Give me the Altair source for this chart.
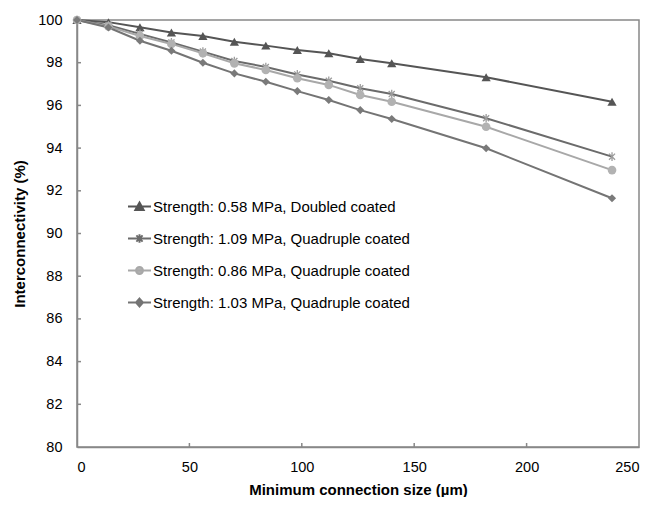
import altair as alt
import pandas as pd

# ---- data ----
x_um = [0, 14, 28, 42, 56, 70, 84, 98, 112, 126, 140, 182, 238]
series = [
    "Strength: 0.58 MPa, Doubled coated",
    "Strength: 1.09 MPa, Quadruple coated",
    "Strength: 0.86 MPa, Quadruple coated",
    "Strength: 1.03 MPa, Quadruple coated",
]
s058 = [100, 99.9, 99.66, 99.41, 99.25, 98.98, 98.80, 98.59, 98.44, 98.17, 97.97, 97.32, 96.17]
s109 = [100, 99.75, 99.35, 98.95, 98.52, 98.08, 97.80, 97.45, 97.15, 96.80, 96.53, 95.40, 93.60]
s086 = [100, 99.70, 99.25, 98.88, 98.44, 97.97, 97.66, 97.27, 96.96, 96.49, 96.17, 95.00, 92.97]
s103 = [100, 99.65, 99.03, 98.56, 98.00, 97.50, 97.11, 96.67, 96.25, 95.78, 95.36, 93.99, 91.65]
values = [s058, s109, s086, s103]

x_tick_values = [0, 50, 100, 150, 200, 250]
y_tick_values = [80, 82, 84, 86, 88, 90, 92, 94, 96, 98, 100]
x_inner_ticks = [50, 100, 150, 200]
y_inner_ticks = [82, 84, 86, 88, 90, 92, 94, 96, 98]

# ---- styles ----
line_colors = ["#555555", "#6b6b6b", "#a8a8a8", "#747474"]
marker_colors = ["#555555", "#9c9c9c", "#b2b2b2", "#7a7a7a"]
asterisk = "M-0.7,-0.7L0.7,0.7M-0.7,0.7L0.7,-0.7M0,-1V1"
marker_shapes = ["triangle-up", asterisk, "circle", "diamond"]
marker_filled = [True, False, True, True]
marker_sizes = [85, 75, 75, 65]
legend_paths = [
    "M-1,0H1M0,-0.34L0.36,0.3H-0.36Z",
    "M-1,0H1M-0.27,-0.27L0.27,0.27M-0.27,0.27L0.27,-0.27M0,-0.38V0.38",
    "M-1,0H1M0.3,0A0.3,0.3,0,1,1,-0.3,0A0.3,0.3,0,1,1,0.3,0Z",
    "M-1,0H1M0,-0.34L0.3,0L0,0.34L-0.3,0Z",
]

rows = []
for name, vals in zip(series, values):
    for xv, yv in zip(x_um, vals):
        rows.append({"series": name, "x": xv, "y": yv})
df = pd.DataFrame(rows)

FONT = "Liberation Sans"

xs = alt.X(
    "x:Q",
    scale=alt.Scale(domain=[0, 250], nice=False),
    axis=alt.Axis(values=x_tick_values, title="Minimum connection size (µm)",
                  labelPadding=13, titlePadding=9, format="d"),
)
ys = alt.Y(
    "y:Q",
    scale=alt.Scale(domain=[80, 100], nice=False, zero=False),
    axis=alt.Axis(values=y_tick_values, title="Interconnectivity (%)",
                  labelPadding=15, titlePadding=10, format="d"),
)

lines = alt.Chart(df).mark_line(strokeWidth=2).encode(
    x=xs, y=ys,
    color=alt.Color("series:N", scale=alt.Scale(domain=series, range=line_colors), legend=None),
)

layers = [lines]
for name, shp, col, fil, sz in zip(series, marker_shapes, marker_colors, marker_filled, marker_sizes):
    layers.append(
        alt.Chart(df).transform_filter(alt.datum.series == name)
        .mark_point(shape=shp, filled=fil, size=sz, color=col, opacity=1, strokeWidth=1.3)
        .encode(x=xs, y=ys)
    )

leg = alt.Legend(
    title=None, orient="none", legendX=50, legendY=174, padding=0,
    rowPadding=11, symbolSize=529, symbolStrokeWidth=2, labelFont=FONT,
    labelFontSize=15, labelColor="#000000", labelOffset=1, labelLimit=400,
    symbolOpacity=1,
)
# legend carrier: only the common start point, drawn tiny (hidden under the markers)
legend_layer = alt.Chart(df).transform_filter(alt.datum.x == 0).mark_point(
    opacity=1, filled=True, size=1
).encode(
    x=xs, y=ys,
    shape=alt.Shape("series:N", scale=alt.Scale(domain=series, range=legend_paths), legend=leg),
    fill=alt.Fill("series:N", scale=alt.Scale(domain=series, range=marker_colors), legend=leg),
    stroke=alt.Stroke("series:N", scale=alt.Scale(domain=series, range=line_colors), legend=leg),
)

xt_df = pd.DataFrame({"x": x_inner_ticks, "y": [80] * len(x_inner_ticks)})
yt_df = pd.DataFrame({"x": [0] * len(y_inner_ticks), "y": y_inner_ticks})
xticks = alt.Chart(xt_df).mark_tick(orient="vertical", size=4, thickness=1.5, color="#888888", yOffset=-2, opacity=1).encode(x=xs, y=ys)
yticks = alt.Chart(yt_df).mark_tick(orient="horizontal", size=4, thickness=1.5, color="#888888", xOffset=2, opacity=1).encode(x=xs, y=ys)

chart = alt.layer(legend_layer, *layers, xticks, yticks).properties(
    width=562, height=427,
    autosize=alt.AutoSizeParams(type="none"),
    padding={"left": 69, "top": 12, "right": 17, "bottom": 50},
).configure_view(
    stroke="#888888", strokeWidth=1.5
).configure_axis(
    grid=False, ticks=False, domainColor="#888888", domainWidth=1.5,
    labelFont=FONT, labelFontSize=14.5, labelColor="#000000",
    titleFont=FONT, titleFontSize=15, titleFontWeight="bold", titleColor="#000000",
)

chart.save("out.html", embed_options={"renderer": "svg", "actions": False})
